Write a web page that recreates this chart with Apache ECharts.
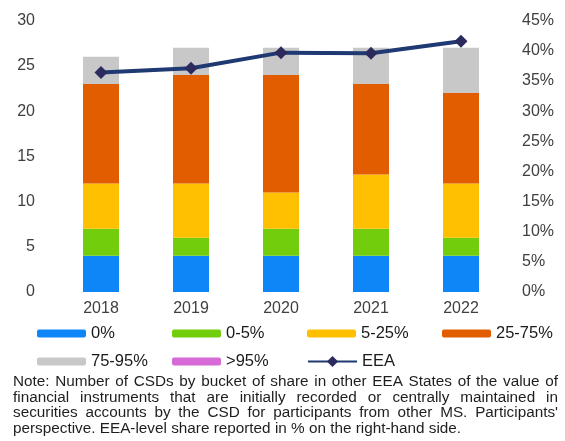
<!DOCTYPE html>
<html>
<head>
<meta charset="utf-8">
<script src="https://cdn.jsdelivr.net/npm/echarts@6/dist/echarts.min.js"></script>
<style>
  html, body { margin: 0; padding: 0; background: #fff; }
  #chart { width: 565px; height: 441px; }
</style>
</head>
<body>
<div id="chart"></div>
<script>
// Years on the x axis
const years = ['2018', '2019', '2020', '2021', '2022'];

// Number of CSDs per share bucket (stacked bars, left axis)
const share0 = [4, 4, 4, 4, 4];
const share0to5 = [3, 2, 3, 3, 2];
const share5to25 = [5, 6, 4, 6, 6];
const share25to75 = [11, 12, 13, 10, 10];
const share75to95 = [3, 3, 3, 4, 5];
const shareOver95 = [0, 0, 0, 0, 0];

// EEA-level share in % (line, right axis)
const eeaShare = [36.4, 37.1, 39.7, 39.6, 41.6];

const bucketNames = ['0%', '0-5%', '5-25%', '25-75%', '75-95%', '>95%'];
const bucketData = [share0, share0to5, share5to25, share25to75, share75to95, shareOver95];
const bucketColors = ['#0f86f8', '#72cd0c', '#fec000', '#e25d00', '#c8c8c8', '#d66ad6'];

const leftTicks = { min: 0, max: 30, interval: 5 };
const rightTicks = { min: 0, max: 45, interval: 5 };

const noteLines = [
  'Note: Number of CSDs by bucket of share in other EEA States of the value of',
  'financial instruments that are initially recorded or centrally maintained in',
  'securities accounts by the CSD for participants from other MS. Participants\'',
  'perspective. EEA-level share reported in % on the right-hand side.'
];

const chart = echarts.init(document.getElementById('chart'), null, { renderer: 'canvas' });

const barSeries = bucketNames.map((name, i) => ({
  name: name,
  type: 'bar',
  stack: 'csd',
  barWidth: 36,
  data: bucketData[i],
  itemStyle: { color: bucketColors[i] },
  emphasis: { disabled: true }
}));

const lineSeries = {
  name: 'EEA',
  type: 'line',
  yAxisIndex: 1,
  data: eeaShare,
  symbol: 'diamond',
  symbolSize: 13,
  lineStyle: { color: '#1f3a72', width: 4 },
  itemStyle: { color: '#2c2b5e' },
  z: 5
};

// Legend: one component per entry, laid out as a 4-column grid
const fontFamily = 'Liberation Sans, Arial, sans-serif';
const legendFont = { fontSize: 16.5, color: '#1a1a1a', fontFamily: fontFamily };
const legendCols = [37, 172, 307, 442];
const legendRows = [325, 353];
const legendOrder = ['0%', '0-5%', '5-25%', '25-75%', '75-95%', '>95%', 'EEA'];
const legends = legendOrder.map((name, i) => ({
  data: [name],
  left: legendCols[i % 4],
  top: legendRows[Math.floor(i / 4)],
  itemWidth: 49,
  itemHeight: name === 'EEA' ? 14 : 8,
  itemGap: 0,
  padding: 0,
  textStyle: Object.assign({ padding: [0, 0, 0, 0] }, legendFont),
  selectedMode: false
}));

// Justified note text: each word placed so the line fills the full width
const noteFont = "15.3px 'Liberation Sans', Arial, sans-serif";
const measureCtx = document.createElement('canvas').getContext('2d');
measureCtx.font = noteFont;
const noteLeft = 13, noteRight = 558, noteTop = 382, noteLineHeight = 15.5;
const noteGraphics = [];
noteLines.forEach((line, li) => {
  const words = line.split(' ');
  const y = noteTop + li * noteLineHeight;
  const widths = words.map(w => measureCtx.measureText(w).width);
  const total = widths.reduce((a, b) => a + b, 0);
  const last = li === noteLines.length - 1;
  const gap = last ? measureCtx.measureText(' ').width
                   : (noteRight - noteLeft - total) / (words.length - 1);
  let x = noteLeft;
  words.forEach((w, wi) => {
    noteGraphics.push({
      type: 'text',
      x: x,
      y: y,
      style: { text: w, font: noteFont, fill: '#1e1e1e', verticalAlign: 'middle' }
    });
    x += widths[wi] + gap;
  });
});

const axisLabelFont = { fontSize: 16, color: '#404040', fontFamily: fontFamily };

chart.setOption({
  animation: false,
  backgroundColor: '#ffffff',
  grid: { left: 56, right: 59, top: 20.7, bottom: 149 },
  legend: legends,
  xAxis: {
    type: 'category',
    data: years,
    axisLine: { show: false },
    axisTick: { show: false },
    axisLabel: Object.assign({ margin: 9 }, axisLabelFont)
  },
  yAxis: [
    {
      type: 'value',
      min: leftTicks.min, max: leftTicks.max, interval: leftTicks.interval,
      splitLine: { show: false },
      axisLine: { show: false },
      axisTick: { show: false },
      axisLabel: Object.assign({ margin: 21 }, axisLabelFont)
    },
    {
      type: 'value',
      min: rightTicks.min, max: rightTicks.max, interval: rightTicks.interval,
      splitLine: { show: false },
      axisLine: { show: false },
      axisTick: { show: false },
      axisLabel: Object.assign({ margin: 16, formatter: '{value}%' }, axisLabelFont)
    }
  ],
  series: barSeries.concat([lineSeries]),
  graphic: noteGraphics
});
</script>
</body>
</html>
